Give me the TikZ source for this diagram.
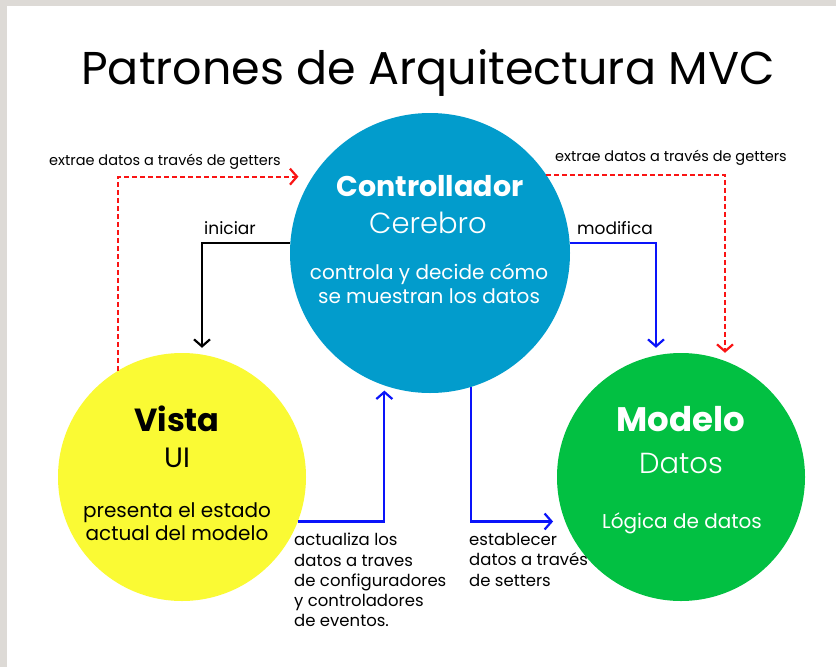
\documentclass[tikz,border=0pt]{standalone}
\usepackage{fontspec}
\setmainfont{Poppins}
\newfontfamily\poplight{Poppins Light}
\usepackage{tikz}
\usetikzlibrary{arrows.meta,positioning,calc}
\definecolor{fondo}{RGB}{221,218,214}
\definecolor{azulC}{RGB}{2,156,204}
\definecolor{amarilloV}{RGB}{250,250,52}
\definecolor{verdeM}{RGB}{2,192,66}
\definecolor{rojoG}{RGB}{250,20,20}
\definecolor{azulF}{RGB}{10,20,250}
\tikzset{
  circM/.style={ circle, minimum size=#1, inner sep=0pt }
}
\tikzset{
  flecha/.style={ line width=2.2pt, -{Straight Barb[length=7pt,width=16pt,line width=2.2pt]} }
}
\tikzset{
  getter/.style={ flecha, rojoG, dash pattern=on 5pt off 3pt }
}
\tikzset{
  etiq/.style={ inner sep=0pt, align=left, font=\fontsize{16.5}{20.3}\selectfont }
}

\begin{document}
\begin{tikzpicture}[x=1pt, y=-1pt]
        % fondo y margenes
        \fill[fondo] (0,0) rectangle (836,667);
        \fill[white] (7,6) rectangle (836,667);
        \useasboundingbox (0,0) rectangle (836,667);
        \node[font=\fontsize{46}{50}\selectfont] (titulo) at (428,73) {Patrones de Arquitectura MVC};
        % circulos
        \node[circM=280pt, fill=azulC] (ctrl) at (430,253) {};
        \node[circM=248pt, fill=amarilloV] (vista) at (182,477) {};
        \node[circM=248pt, fill=verdeM] (modelo) at (681,477) {};
        % textos de los circulos
        \node[white, font=\fontsize{28.5}{30}\bfseries\selectfont] (ctrlA) at (430,186) {Controllador};
        \node[white, font=\fontsize{29}{32}\poplight\selectfont] (ctrlB) at (428,223) {Cerebro};
        \node[white, align=center, font=\fontsize{20}{24}\selectfont] (ctrlC) at (429,284) {controla y decide cómo\\se muestran los datos};
        \node[font=\fontsize{32}{36}\bfseries\selectfont] (vistaA) at (177,419) {Vista};
        \node[font=\fontsize{28}{30}\selectfont] (vistaB) at (177,458) {UI};
        \node[align=center, font=\fontsize{20}{23}\selectfont] (vistaC) at (177,522) {presenta el estado\\actual del modelo};
        \node[white, font=\fontsize{34}{36}\bfseries\selectfont] (modeloA) at (681,419) {Modelo};
        \node[white, font=\fontsize{29}{32}\poplight\selectfont] (modeloB) at (681,463) {Datos};
        \node[white, font=\fontsize{20}{22}\selectfont] (modeloC) at (682,523) {Lógica de datos};
        % conectores
        \draw[getter] (vista.121) |- ([xshift=-14pt]ctrl.147);
        \draw[getter] (ctrl.34) -| ([xshift=44pt]modelo.north);
        \draw[flecha, black] (ctrl.176) -| ([xshift=20pt,yshift=5pt]vista.north);
        \draw[flecha, azulF] (ctrl.4) -| ([xshift=-25pt,yshift=5pt]modelo.north);
        \draw[flecha, azulF] (vista.-21) -| ([yshift=-5pt]ctrl.251);
        \draw[flecha, azulF] (ctrl.-73) |- ([xshift=-12pt]modelo.201);
        % etiquetas
        \node[etiq, font=\fontsize{14.5}{16}\selectfont] (getIzq) at (165,162) {extrae datos a través de getters};
        \node[etiq, font=\fontsize{14.5}{16}\selectfont] (getDer) at (671,158) {extrae datos a través de getters};
        \node[etiq, font=\fontsize{17}{20}\selectfont] (iniciar) at (230,228) {iniciar};
        \node[etiq, font=\fontsize{17}{20}\selectfont] (modifica) at (615,228) {modifica};
        \node[etiq, anchor=north west] (actualiza) at (294,533) {actualiza los\\datos a traves\\de configuradores\\y controladores\\de eventos.};
        \node[etiq, anchor=north west] (establecer) at (469,533) {establecer\\datos a través\\de setters};
      \end{tikzpicture}
\end{document}
